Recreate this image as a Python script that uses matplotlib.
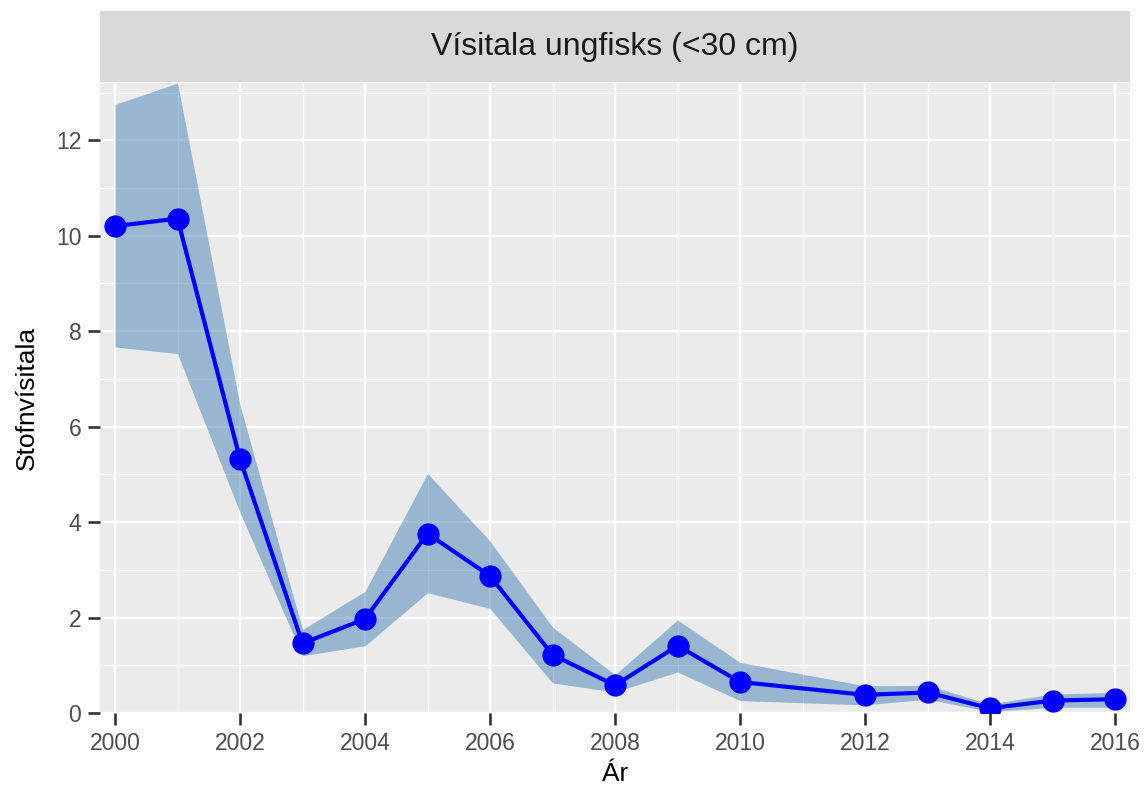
import matplotlib
matplotlib.use("Agg")
import matplotlib.pyplot as plt
import numpy as np

years = [2000, 2001, 2002, 2003, 2004, 2005, 2006, 2007, 2008, 2009, 2010,
         2012, 2013, 2014, 2015, 2016]
index = [10.2, 10.36, 5.32, 1.46, 1.97, 3.76, 2.87, 1.22, 0.58, 1.41, 0.65,
         0.38, 0.43, 0.10, 0.26, 0.29]
upper = [12.75, 13.2, 6.45, 1.75, 2.55, 5.02, 3.6, 1.80, 0.80, 1.95, 1.06,
         0.57, 0.58, 0.19, 0.40, 0.43]
lower = [7.67, 7.53, 4.2, 1.2, 1.41, 2.52, 2.19, 0.63, 0.44, 0.86, 0.26,
         0.17, 0.29, 0.03, 0.12, 0.12]
x_ticks = [2000, 2002, 2004, 2006, 2008, 2010, 2012, 2014, 2016]
y_ticks = [0, 2, 4, 6, 8, 10, 12]
title = "Vísitala ungfisks (<30 cm)"
xlabel = "Ár"
ylabel = "Stofnvísitala"

plt.rcParams['font.family'] = ['Liberation Sans', 'DejaVu Sans']

fig = plt.figure(figsize=(11.48, 7.94), dpi=100)
W, H = 1148, 794
pl, pr, pt, pb = 100, 1130, 83, 713
ax = fig.add_axes([pl / W, 1 - pb / H, (pr - pl) / W, (pb - pt) / H])
ax.set_facecolor('#EBEBEB')
for s in ax.spines.values():
    s.set_visible(False)

ax.set_xlim(1999.76, 2016.24)
ax.set_ylim(0, 13.2)
ax.set_xticks(x_ticks)
ax.set_yticks(y_ticks)
ax.set_xticks(np.arange(2001, 2016, 2), minor=True)
ax.set_yticks(np.arange(1, 14, 2), minor=True)
ax.grid(which='major', color='white', linewidth=1.7)
ax.grid(which='minor', color='white', linewidth=0.9)
ax.set_axisbelow(True)
ax.tick_params(which='minor', length=0)
ax.tick_params(which='major', length=8.5, width=1.9, color='#333333',
               labelsize=16.5, labelcolor='#4D4D4D', pad=5)

ax.fill_between(years, lower, upper, color='steelblue', alpha=0.5,
                linewidth=0, zorder=2)
ax.plot(years, index, color='#0000FF', linewidth=3, zorder=3)
ax.plot(years, index, 'o', color='#0000FF', markersize=15, zorder=4,
        clip_on=True)

ax.set_xlabel(xlabel, fontsize=19, labelpad=5, color='black')
ax.set_ylabel(ylabel, fontsize=19, labelpad=12, color='black')

# strip
sax = fig.add_axes([pl / W, 1 - 82 / H, (pr - pl) / W, 71 / H])
sax.set_facecolor('#D9D9D9')
sax.set_xticks([])
sax.set_yticks([])
for s in sax.spines.values():
    s.set_visible(False)
sax.text(0.5, 0.5, title, ha='center', va='center', fontsize=23,
         color='#1A1A1A', transform=sax.transAxes)

fig.savefig('out.png', dpi=100)
